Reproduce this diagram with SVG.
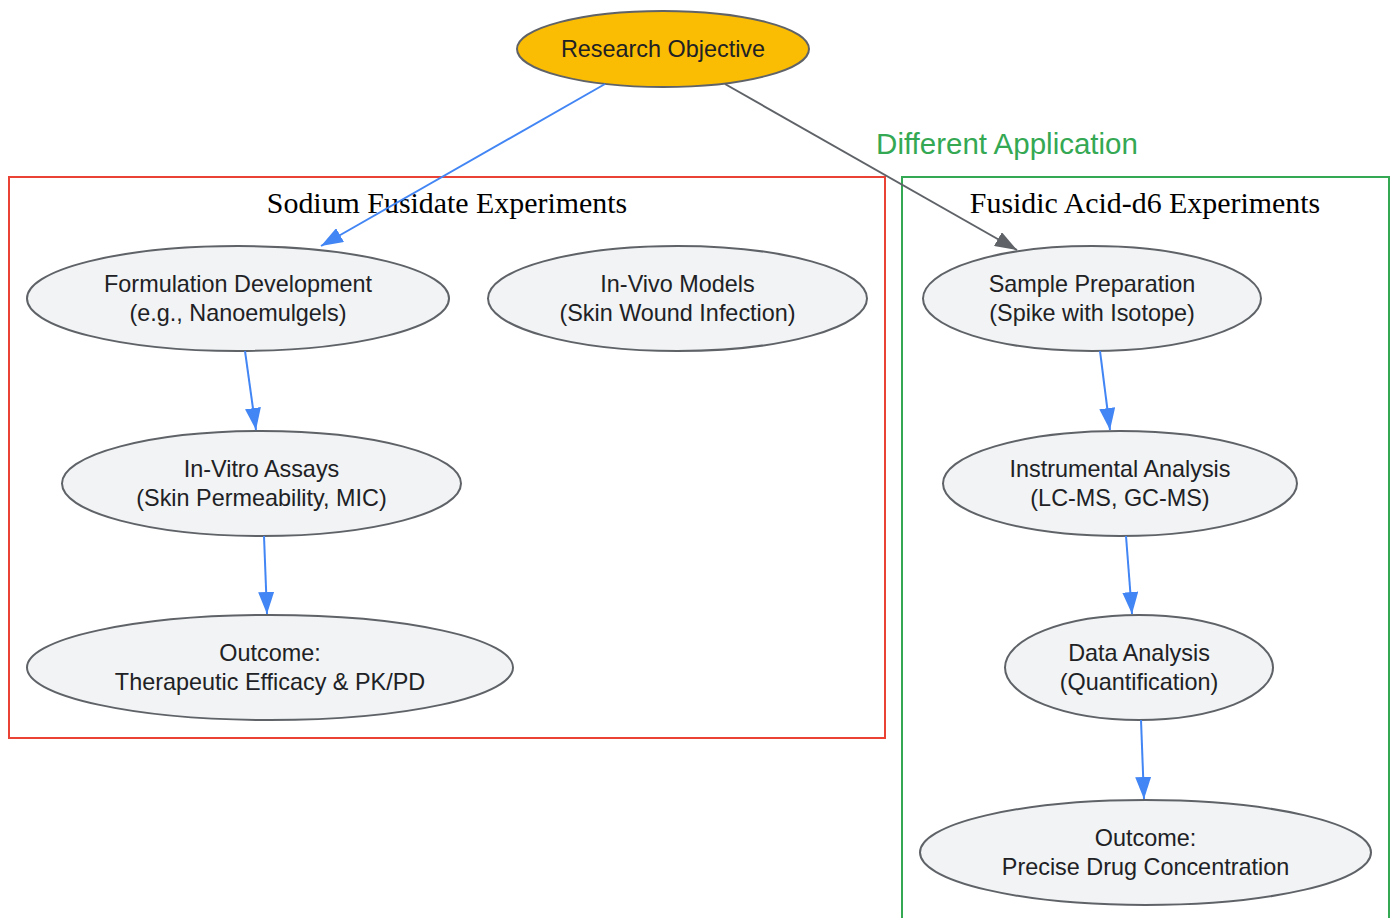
<svg xmlns="http://www.w3.org/2000/svg" width="1394" height="918" viewBox="0 0 1394 918">
<defs>
<style>
.node ellipse{fill:#F1F3F4;stroke:#5F6368;stroke-width:2}
.node text,.root text{font-family:"Liberation Sans",Arial,sans-serif;font-size:23.4px;fill:#202124;text-anchor:middle}
.ctitle{font-family:"Liberation Serif","Times New Roman",serif;font-size:29.9px;fill:#000;text-anchor:middle}
.elabel{font-family:"Liberation Sans",Arial,sans-serif;font-size:29.5px;fill:#34A853;text-anchor:middle}
.blue{stroke:#4285F4;stroke-width:2;fill:none;marker-end:url(#ab)}
.gray{stroke:#5F6368;stroke-width:2;fill:none;marker-end:url(#ag)}
</style>
<marker id="ab" markerUnits="userSpaceOnUse" markerWidth="22" markerHeight="16" refX="22" refY="8" orient="auto"><path d="M0,0 L22,8 L0,16 z" fill="#4285F4"/></marker>
<marker id="ag" markerUnits="userSpaceOnUse" markerWidth="22" markerHeight="16" refX="22" refY="8" orient="auto"><path d="M0,0 L22,8 L0,16 z" fill="#5F6368"/></marker>
</defs>
<rect width="1394" height="918" fill="#fff"/>
<g id="cluster-sodium">
<rect x="9" y="177" width="876" height="561" fill="none" stroke="#EA4335" stroke-width="2"/>
<text class="ctitle" x="447" y="213">Sodium Fusidate Experiments</text>
</g>
<g id="cluster-fusidic">
<rect x="902" y="177" width="487" height="760" fill="none" stroke="#34A853" stroke-width="2"/>
<text class="ctitle" x="1145" y="213">Fusidic Acid-d6 Experiments</text>
</g>
<g id="research-objective" class="root">
<ellipse cx="663" cy="49" rx="146" ry="38" fill="#FBBC04" stroke="#5F6368" stroke-width="2"/>
<text x="663" y="57">Research Objective</text>
</g>
<g id="formulation" class="node">
<ellipse cx="238" cy="298.5" rx="211" ry="52.5"/>
<text x="238" y="292">Formulation Development</text>
<text x="238" y="321">(e.g., Nanoemulgels)</text>
</g>
<g id="invivo" class="node">
<ellipse cx="677.5" cy="298.5" rx="189.5" ry="52.5"/>
<text x="677.5" y="292">In-Vivo Models</text>
<text x="677.5" y="321">(Skin Wound Infection)</text>
</g>
<g id="invitro" class="node">
<ellipse cx="261.5" cy="483.5" rx="199.5" ry="52.5"/>
<text x="261.5" y="477">In-Vitro Assays</text>
<text x="261.5" y="506">(Skin Permeability, MIC)</text>
</g>
<g id="outcome-therapeutic" class="node">
<ellipse cx="270" cy="667.5" rx="243" ry="52.5"/>
<text x="270" y="661">Outcome:</text>
<text x="270" y="690">Therapeutic Efficacy &amp; PK/PD</text>
</g>
<g id="sample-prep" class="node">
<ellipse cx="1092" cy="298.5" rx="169" ry="52.5"/>
<text x="1092" y="292">Sample Preparation</text>
<text x="1092" y="321">(Spike with Isotope)</text>
</g>
<g id="instrumental" class="node">
<ellipse cx="1120" cy="483.5" rx="177" ry="52.5"/>
<text x="1120" y="477">Instrumental Analysis</text>
<text x="1120" y="506">(LC-MS, GC-MS)</text>
</g>
<g id="data-analysis" class="node">
<ellipse cx="1139" cy="667.5" rx="134" ry="52.5"/>
<text x="1139" y="661">Data Analysis</text>
<text x="1139" y="690">(Quantification)</text>
</g>
<g id="outcome-precise" class="node">
<ellipse cx="1145.5" cy="852.5" rx="225.5" ry="52.5"/>
<text x="1145.5" y="846">Outcome:</text>
<text x="1145.5" y="875">Precise Drug Concentration</text>
</g>
<g id="connectors">
<path class="blue" d="M605,84 L321,246"/>
<path class="gray" d="M725,84 L1017,250"/>
<text class="elabel" x="1007" y="154">Different Application</text>
<path class="blue" d="M245,351 L256,430"/>
<path class="blue" d="M264,536 L267,614"/>
<path class="blue" d="M1100,351 L1110,430"/>
<path class="blue" d="M1126,536 L1132,614"/>
<path class="blue" d="M1141,720 L1144,799"/>
</g>
</svg>
